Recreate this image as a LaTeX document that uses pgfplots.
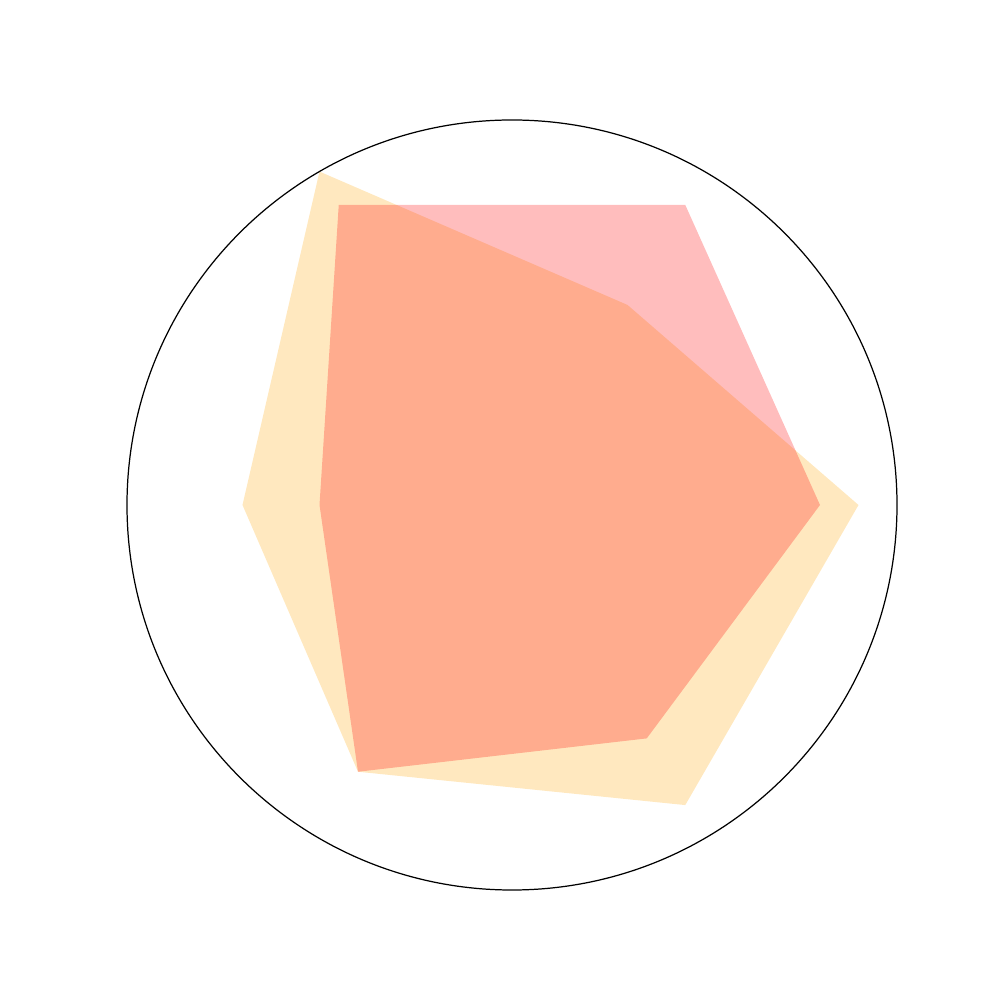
\documentclass[border=0pt]{standalone}
\usepackage{pgfplots}
\pgfplotsset{compat=1.18}
\usepgfplotslibrary{polar}
\begin{document}
\begin{tikzpicture}
\begin{polaraxis}[
  at={(0,0)}, anchor=center,
  width=7.7cm, height=7.7cm, scale only axis,
  xmin=0, xmax=360, ymin=0, ymax=1,
  xtick=\empty, ytick=\empty,
  grid=none,
  axis line style={black, line width=0.35pt},
  y axis line style={draw=none},
  axis on top,
]
\addplot[draw=none, fill={rgb,255:red,255;green,165;blue,0}, fill opacity=0.25]
  coordinates {(0,0.9) (60,0.6) (120,1.0) (180,0.7) (240,0.8) (300,0.9) (360,0.9)};
\addplot[draw=none, fill=red, fill opacity=0.26]
  coordinates {(0,0.8) (60,0.9) (120,0.9) (180,0.5) (240,0.8) (300,0.7) (360,0.8)};
\coordinate (O) at (axis cs:0,0);
\end{polaraxis}
\path (O) ++(-5.12cm,-4.95cm) rectangle ++(10cm,10cm);
\end{tikzpicture}
\end{document}
